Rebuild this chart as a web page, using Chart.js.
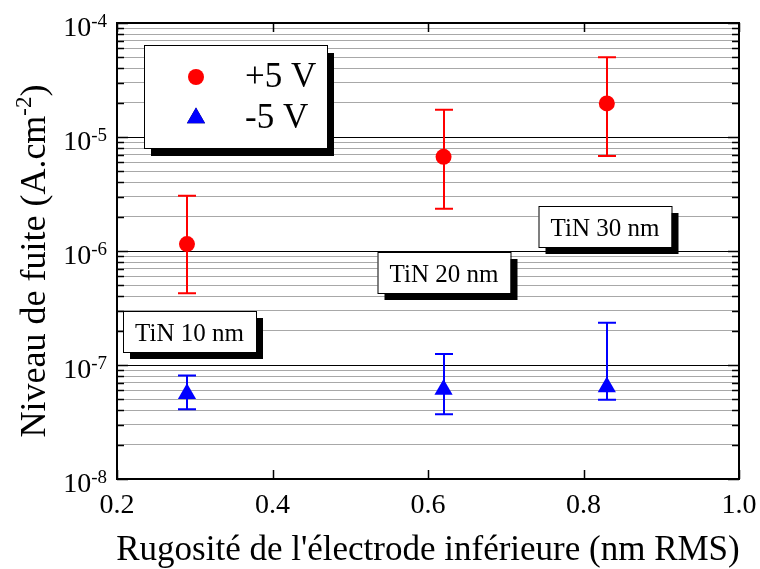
<!DOCTYPE html>
<html>
<head>
<meta charset="utf-8">
<script src="https://cdn.jsdelivr.net/npm/chart.js@4.4.0/dist/chart.umd.min.js"></script>
<style>
  html, body { margin: 0; padding: 0; background: #fff; }
  #wrap { width: 760px; height: 569px; position: relative; }
</style>
</head>
<body>
<div id="wrap"><canvas id="chart"></canvas></div>
<script>
// ---- data ----
const roughness = [0.29, 0.62, 0.83];
const leakPos = [1.15e-6, 6.7e-6, 1.97e-5];
const leakPosLow = [4.25e-7, 2.35e-6, 6.8e-6];
const leakPosHigh = [3.05e-6, 1.73e-5, 5.0e-5];
const leakNeg = [5.6e-8, 6.1e-8, 6.4e-8];
const leakNegLow = [4.1e-8, 3.7e-8, 4.95e-8];
const leakNegHigh = [8.1e-8, 1.25e-7, 2.35e-7];

const seriesLabels = ["+5 V", "-5 V"];
const xTicks = [0.2, 0.4, 0.6, 0.8, 1.0];
const xTickLabels = ["0.2", "0.4", "0.6", "0.8", "1.0"];
const yDecades = [-8, -7, -6, -5, -4];
const thicknessLabels = ["TiN 10 nm", "TiN 20 nm", "TiN 30 nm"];

// ---- layout bits (pixels) ----
const FONT = "'Liberation Serif', 'Times New Roman', serif";
const labelBoxes = [
  { cx: 189.5, cy: 331.5 },
  { cx: 444, cy: 272.5 },
  { cx: 605, cy: 226.5 },
];

// minor + major log ticks for the gridlines
const yTickValues = [];
yDecades.forEach((d, i) => {
  if (i === yDecades.length - 1) { yTickValues.push(Math.pow(10, d)); return; }
  for (let m = 1; m <= 9; m++) yTickValues.push(m * Math.pow(10, d));
});
const isDecade = (v) => Math.abs(Math.log10(v) - Math.round(Math.log10(v))) < 1e-6;

const pts = (ys) => roughness.map((x, i) => ({ x, y: ys[i] }));

function boxWithShadow(ctx, x, y, w, h, dx, dy) {
  ctx.fillStyle = "#000";
  ctx.fillRect(x + dx, y + dy, w, h);
  ctx.fillStyle = "#fff";
  ctx.fillRect(x, y, w, h);
  ctx.strokeStyle = "#000";
  ctx.lineWidth = 1;
  ctx.strokeRect(x + 0.5, y + 0.5, w, h);
}

const errorBars = {
  id: "errorBars",
  beforeDatasetsDraw(chart) {
    const { ctx, scales: { x, y } } = chart;
    const sets = [
      { low: leakPosLow, high: leakPosHigh, color: "#ff0000" },
      { low: leakNegLow, high: leakNegHigh, color: "#0000ff" },
    ];
    ctx.save();
    ctx.lineWidth = 2;
    sets.forEach((s) => {
      ctx.strokeStyle = s.color;
      roughness.forEach((rx, i) => {
        const px = Math.round(x.getPixelForValue(rx));
        const top = y.getPixelForValue(s.high[i]);
        const bot = y.getPixelForValue(s.low[i]);
        ctx.beginPath();
        ctx.moveTo(px, top); ctx.lineTo(px, bot);
        ctx.moveTo(px - 9, top); ctx.lineTo(px + 9, top);
        ctx.moveTo(px - 9, bot); ctx.lineTo(px + 9, bot);
        ctx.stroke();
      });
    });
    ctx.restore();
  },
};

const frame = {
  id: "frame",
  afterDatasetsDraw(chart) {
    const { ctx, chartArea: a, scales: { x, y } } = chart;
    ctx.save();

    // axes box
    ctx.strokeStyle = "#000";
    ctx.lineWidth = 2;
    ctx.strokeRect(a.left, a.top, a.right - a.left, a.bottom - a.top);

    // inward ticks
    ctx.lineWidth = 1.5;
    ctx.beginPath();
    yTickValues.forEach((v) => {
      const py = Math.round(y.getPixelForValue(v)) + 0.5;
      const len = isDecade(v) ? 11 : 7;
      ctx.moveTo(a.left, py); ctx.lineTo(a.left + len, py);
      ctx.moveTo(a.right, py); ctx.lineTo(a.right - len, py);
    });
    xTicks.forEach((v) => {
      const px = Math.round(x.getPixelForValue(v)) + 0.5;
      ctx.moveTo(px, a.bottom); ctx.lineTo(px, a.bottom - 9);
      ctx.moveTo(px, a.top); ctx.lineTo(px, a.top + 9);
    });
    ctx.stroke();

    // tick labels
    ctx.fillStyle = "#000";
    ctx.textBaseline = "alphabetic";
    ctx.font = `28px ${FONT}`;
    ctx.textAlign = "center";
    xTicks.forEach((v, i) => {
      ctx.fillText(xTickLabels[i], x.getPixelForValue(v), a.bottom + 34);
    });
    yDecades.forEach((d) => {
      const py = y.getPixelForValue(Math.pow(10, d));
      const sup = String(d);
      ctx.font = `28px ${FONT}`;
      const w1 = ctx.measureText("10").width;
      ctx.font = `19px ${FONT}`;
      const w2 = ctx.measureText(sup).width;
      const right = a.left - 10;
      ctx.textAlign = "left";
      ctx.font = `28px ${FONT}`;
      ctx.fillText("10", right - w1 - w2, py + 13);
      ctx.font = `19px ${FONT}`;
      ctx.fillText(sup, right - w2, py + 4);
    });

    // axis titles
    ctx.font = `35px ${FONT}`;
    ctx.textAlign = "center";
    ctx.fillText("Rugosité de l'électrode inférieure (nm RMS)", (a.left + a.right) / 2, 560);

    ctx.save();
    ctx.translate(45, 261);
    ctx.rotate(-Math.PI / 2);
    ctx.textAlign = "left";
    const p1 = "Niveau de fuite (A.cm", p2 = "-2", p3 = ")";
    ctx.font = `36px ${FONT}`;
    const t1 = ctx.measureText(p1).width, t3 = ctx.measureText(p3).width;
    ctx.font = `23px ${FONT}`;
    const t2 = ctx.measureText(p2).width;
    let sx = -(t1 + t2 + t3) / 2;
    ctx.font = `36px ${FONT}`;
    ctx.fillText(p1, sx, 0); sx += t1;
    ctx.font = `23px ${FONT}`;
    ctx.fillText(p2, sx, -14); sx += t2;
    ctx.font = `36px ${FONT}`;
    ctx.fillText(p3, sx, 0);
    ctx.restore();

    // thickness labels
    ctx.font = `25px ${FONT}`;
    ctx.textAlign = "center";
    thicknessLabels.forEach((t, i) => {
      const b = labelBoxes[i];
      boxWithShadow(ctx, b.cx - 66.5, b.cy - 20.5, 133, 41, 7, 7);
      ctx.fillStyle = "#000";
      ctx.fillText(t, b.cx, b.cy + 9);
    });

    // legend
    boxWithShadow(ctx, 144, 45, 183, 103, 7, 8);
    const ds = chart.data.datasets;
    [77, 118].forEach((ly, i) => {
      const d = ds[i];
      Chart.helpers.drawPoint(ctx, {
        pointStyle: d.pointStyle, radius: d.pointRadius, borderWidth: 0, rotation: 0,
      }, 196, ly);
      ctx.fillStyle = d.backgroundColor;
      ctx.fill();
      ctx.fillStyle = "#000";
      ctx.font = `35px ${FONT}`;
      ctx.textAlign = "left";
      ctx.fillText(seriesLabels[i], 245, ly + 10);
    });

    ctx.restore();
  },
};

new Chart(document.getElementById("chart"), {
  type: "scatter",
  data: {
    datasets: [
      {
        label: seriesLabels[0],
        data: pts(leakPos),
        pointStyle: "circle",
        pointRadius: 8,
        pointHoverRadius: 8,
        backgroundColor: "#ff0000",
        borderWidth: 0,
      },
      {
        label: seriesLabels[1],
        data: pts(leakNeg),
        pointStyle: "triangle",
        pointRadius: 10.5,
        pointHoverRadius: 10.5,
        backgroundColor: "#0000ff",
        borderWidth: 0,
      },
    ],
  },
  options: {
    responsive: true,
    maintainAspectRatio: false,
    animation: false,
    events: [],
    layout: { padding: { left: 117, right: 21, top: 23, bottom: 82 } },
    plugins: { legend: { display: false }, tooltip: { enabled: false } },
    scales: {
      x: {
        type: "linear",
        min: 0.2,
        max: 1.0,
        grid: { display: false },
        border: { display: false },
        ticks: { display: false },
      },
      y: {
        type: "logarithmic",
        min: 1e-8,
        max: 1e-4,
        afterBuildTicks: (s) => {
          s.ticks = yTickValues.map((v) => ({ value: v, major: isDecade(v) }));
        },
        grid: {
          drawTicks: false,
          color: (c) => (isDecade(c.tick.value) ? "#000" : "#a8a8a8"),
          lineWidth: 1,
        },
        border: { display: false },
        ticks: { display: false },
      },
    },
  },
  plugins: [errorBars, frame],
});
</script>
</body>
</html>
